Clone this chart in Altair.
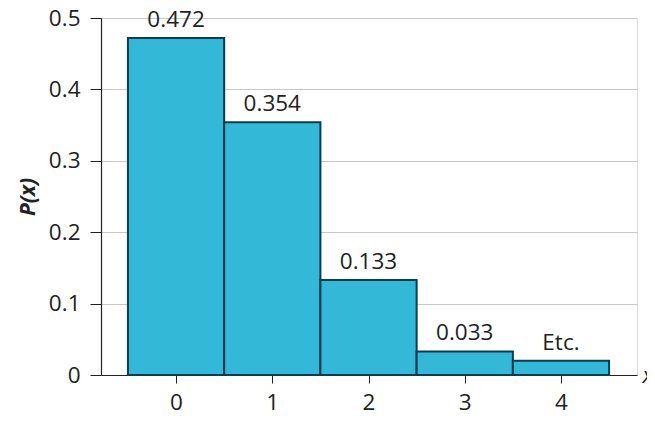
import altair as alt
import pandas as pd

xs = [0, 1, 2, 3, 4]
probs = [0.472, 0.354, 0.133, 0.033, 0.02]
labels = ["0.472", "0.354", "0.133", "0.033", "Etc."]

df = pd.DataFrame({"x": xs, "p": probs, "label": labels})

FONT = "Open Sans"
FS = 22.5

base = alt.Chart(df).transform_calculate(
    x0="datum.x - 0.5", x1="datum.x + 0.5"
)

xscale = alt.Scale(domain=[-0.78, 4.79], nice=False, zero=False)
yscale = alt.Scale(domain=[0, 0.5], nice=False)

bars = base.mark_bar(color="#33b8d8", stroke="#0d3d4d", strokeWidth=2).encode(
    x=alt.X("x0:Q", scale=xscale,
            axis=alt.Axis(values=xs, format="d", grid=False, title="x",
                          titleX=541, titleY=0, titleAlign="left", titleBaseline="middle",
                          titleFont=FONT, titleFontSize=FS, titleFontWeight="normal",
                          titleFontStyle="italic", titleColor="#222",
                          labelFont=FONT, labelFontSize=FS, labelColor="#222",
                          labelPadding=8, tickSize=8, tickColor="#222",
                          domainColor="#222", domainWidth=1.2)),
    x2="x1:Q",
    y=alt.Y("p:Q", scale=yscale,
            axis=alt.Axis(values=[0, 0.1, 0.2, 0.3, 0.4, 0.5],
                          labelExpr="datum.value == 0 ? '0' : format(datum.value, '.1f')",
                          title="P(x)", titleFont=FONT, titleFontSize=21,
                          titleFontWeight="bold", titleFontStyle="italic",
                          titlePadding=10, titleColor="#222",
                          labelFont=FONT, labelFontSize=FS, labelColor="#222",
                          labelPadding=10, tickSize=11, tickColor="#222",
                          domainColor="#222", domainWidth=1.2,
                          gridColor="#c8c8c8", gridWidth=1)),
    y2=alt.datum(0),
)

text = base.mark_text(font=FONT, fontSize=FS, baseline="bottom", dy=-6, color="#222").encode(
    x=alt.X("x:Q", scale=xscale),
    y=alt.Y("p:Q", scale=yscale),
    text="label:N",
)

chart = (bars + text).properties(
    width=536, height=357,
    autosize=alt.AutoSizeParams(type="none"),
    padding={"left": 93, "top": 10, "right": 10, "bottom": 46},
).configure_view(stroke=None).configure(background="white")

chart.save("out.html", embed_options={"renderer": "svg", "actions": False})
